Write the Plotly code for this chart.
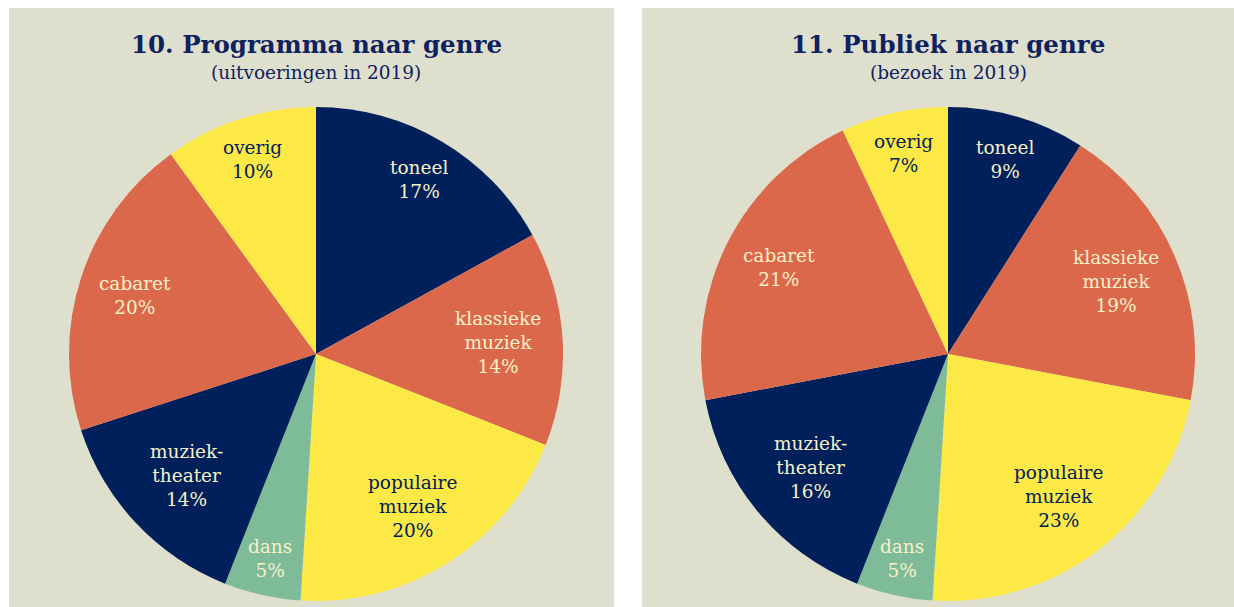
import math
import plotly.graph_objects as go

W, H = 1234, 607

genres = ["toneel", "klassieke muziek", "populaire muziek", "dans", "muziektheater", "cabaret", "overig"]
label_text = ["toneel", "klassieke<br>muziek", "populaire<br>muziek", "dans", "muziek-<br>theater", "cabaret", "overig"]
programma_pct = [17, 14, 20, 5, 14, 20, 10]
publiek_pct = [9, 19, 23, 5, 16, 21, 7]

titles = ["10. Programma naar genre", "11. Publiek naar genre"]
subtitles = ["(uitvoeringen in 2019)", "(bezoek in 2019)"]

# styles
NAVY = "#00205b"
ORANGE = "#dc684b"
YELLOW = "#fde946"
GREEN = "#7dbb99"
BG = "#dfdfcd"
LIGHT = "#f8f1c8"
slice_colors = [NAVY, ORANGE, YELLOW, GREEN, NAVY, ORANGE, YELLOW]
text_colors = [LIGHT, LIGHT, NAVY, LIGHT, LIGHT, LIGHT, NAVY]
label_rfrac = [0.82, 0.74, 0.73, 0.85, 0.72, 0.77, 0.83]
FONT = "Georgia, DejaVu Serif, serif"

# layout geometry (page pixels; body margin removed)
panels = [(9, 614), (642, 1234)]
PANEL_TOP = 8
centers = [(316, 354), (948, 354)]
R = 247

fig = go.Figure()
annotations = []
shapes = []

for i, vals in enumerate([programma_pct, publiek_pct]):
    cx, cy = centers[i]
    fig.add_trace(go.Pie(
        labels=genres, values=vals, sort=False, direction="clockwise", rotation=0,
        marker=dict(colors=slice_colors, line=dict(width=0)),
        textinfo="none", hoverinfo="label+percent", showlegend=False,
        domain=dict(x=[(cx - R) / W, (cx + R) / W], y=[1 - (cy + R) / H, 1 - (cy - R) / H]),
    ))
    total = sum(vals)
    cum = 0
    for j, v in enumerate(vals):
        mid = (cum + v / 2) / total * 2 * math.pi
        cum += v
        r = R * label_rfrac[j]
        px = cx + r * math.sin(mid)
        py = cy - r * math.cos(mid)
        annotations.append(dict(
            x=px / W, y=1 - py / H, xref="paper", yref="paper",
            text=f"{label_text[j]}<br>{v}%", showarrow=False,
            font=dict(family=FONT, size=18.5, color=text_colors[j]),
            xanchor="center", yanchor="middle", align="center",
        ))
    x0, x1 = panels[i]
    shapes.append(dict(type="rect", xref="paper", yref="paper",
                       x0=x0 / W, x1=x1 / W, y0=0, y1=1 - PANEL_TOP / H,
                       fillcolor=BG, line=dict(width=0), layer="below"))
    tx = cx / W
    annotations.append(dict(x=tx, y=1 - 45 / H, xref="paper", yref="paper",
                            text=f"<b>{titles[i]}</b>", showarrow=False,
                            font=dict(family=FONT, size=24.5, color="#0e2160"),
                            xanchor="center", yanchor="middle"))
    annotations.append(dict(x=tx, y=1 - 73 / H, xref="paper", yref="paper",
                            text=subtitles[i], showarrow=False,
                            font=dict(family=FONT, size=18.5, color="#0e2160"),
                            xanchor="center", yanchor="middle"))

fig.update_layout(
    width=W, height=H, margin=dict(l=0, r=0, t=0, b=0),
    paper_bgcolor="white", plot_bgcolor="white",
    shapes=shapes, annotations=annotations,
)
fig.write_html("out.html", config={"displayModeBar": False},
               post_script="document.body.style.margin='0';document.body.style.overflow='hidden';")
